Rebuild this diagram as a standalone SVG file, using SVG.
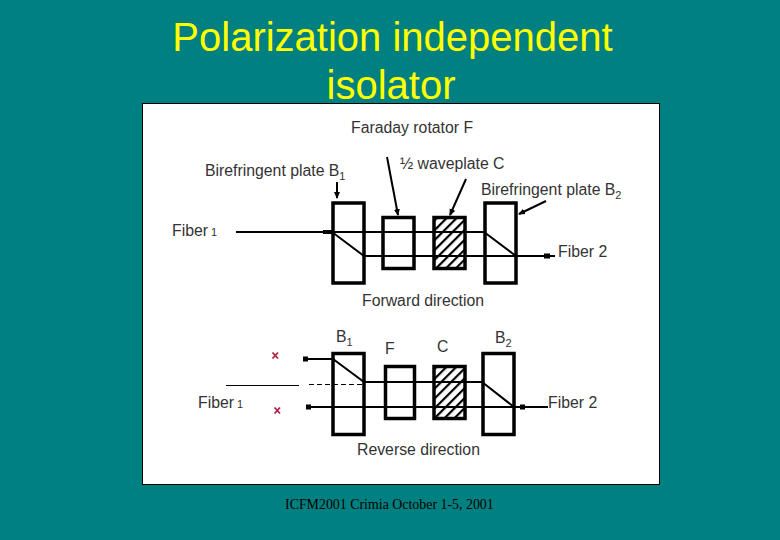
<svg xmlns="http://www.w3.org/2000/svg" width="780" height="540" viewBox="0 0 780 540">
<style>
text{font-family:"Liberation Sans",Arial,sans-serif;font-size:15.800px;fill:#333}
.t{font-size:40px;fill:#ffff00;text-anchor:middle}
.s{font-size:11px}
.box{fill:#fff;stroke:#000;stroke-width:3.500}
.hb{fill:url(#h);stroke:#000;stroke-width:3.500}
.l{fill:none;stroke:#000;stroke-width:2}
.x{fill:none;stroke:#b02040;stroke-width:1.800}
</style>
<defs>
<pattern id="h" width="7" height="7" patternUnits="userSpaceOnUse" patternTransform="rotate(45)">
<rect width="7" height="7" fill="#fff"/><rect width="2.200" height="7" fill="#000"/>
</pattern>
<marker id="a" markerWidth="7" markerHeight="7" refX="6" refY="3.500" orient="auto" markerUnits="userSpaceOnUse"><path d="M0 0.500L7 3.500L0 6.500z" fill="#000"/></marker>
</defs>
<rect width="780" height="540" fill="#008080"/>
<rect x="142.500" y="103.500" width="517" height="381" fill="#fff" stroke="#000"/>
<g id="title">
<text class="t" x="392.500" y="51">Polarization independent</text>
<text class="t" x="391" y="99">isolator</text>
</g>
<g id="top-b1"><rect class="box" x="333" y="203" width="31" height="80"/></g>
<g id="top-f"><rect class="box" x="383" y="217.500" width="31" height="51"/></g>
<g id="top-c"><rect class="hb" x="434" y="217.500" width="31" height="51"/></g>
<g id="top-b2"><rect class="box" x="485" y="203" width="31" height="80"/></g>
<g id="bot-b1"><rect class="box" x="333" y="353.500" width="31" height="81"/></g>
<g id="bot-f"><rect class="box" x="385.500" y="366.500" width="29" height="52"/></g>
<g id="bot-c"><rect class="hb" x="434" y="366.500" width="31" height="52"/></g>
<g id="bot-b2"><rect class="box" x="483" y="353.500" width="31" height="81"/></g>
<g id="connectors">
<path class="l" d="M236 232H484L516 256M332 232L364 256H555"/>
<path class="l" d="M323 232H332" style="stroke-width:4"/>
<path class="l" d="M544 256H550" style="stroke-width:5"/>
<path class="l" d="M337 182L337 198" marker-end="url(#a)"/>
<path class="l" d="M387 157L398 215" marker-end="url(#a)"/>
<path class="l" d="M466 179L450 215" marker-end="url(#a)"/>
<path class="l" d="M546 201L519 214" marker-end="url(#a)"/>
<path class="l" d="M305 359H333L364 382H482L514 407M307 407H548"/>
<path class="l" d="M303 359H308M306 407H311M520 407H525" style="stroke-width:5"/>
<path d="M226 385.500H299" stroke="#000" fill="none"/>
<path d="M309 384.500H364" stroke="#000" stroke-dasharray="5 3" fill="none"/>
<path class="x" d="M272.500 352.500L278 358.500M278 352.500L272.500 358.500M274.500 407.500L280 413.500M280 407.500L274.500 413.500"/>
</g>
<g id="labels">
<text x="351" y="133">Faraday rotator F</text>
<text x="205" y="176">Birefringent plate B<tspan class="s" dy="4">1</tspan></text>
<text x="400" y="169">½ waveplate C</text>
<text x="481" y="195">Birefringent plate B<tspan class="s" dy="4">2</tspan></text>
<text x="172" y="236">Fiber<tspan class="s" dx="3">1</tspan></text>
<text x="558" y="257">Fiber 2</text>
<text x="362" y="306">Forward direction</text>
<text x="336" y="342">B<tspan class="s" dy="4">1</tspan></text>
<text x="385" y="354">F</text>
<text x="437" y="352">C</text>
<text x="495" y="343">B<tspan class="s" dy="4">2</tspan></text>
<text x="198" y="408">Fiber<tspan class="s" dx="3">1</tspan></text>
<text x="548" y="408">Fiber 2</text>
<text x="357" y="455">Reverse direction</text>
<text x="285" y="509" style="font-family:'Liberation Serif',serif;font-size:13.900px;fill:#000">ICFM2001 Crimia October 1-5, 2001</text>
</g>
</svg>
